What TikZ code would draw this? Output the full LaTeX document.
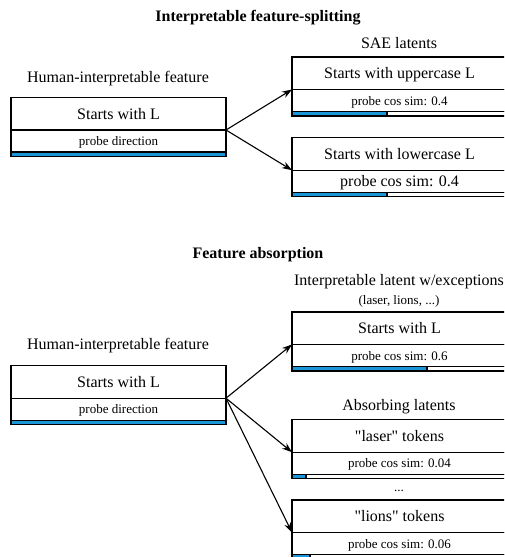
\documentclass[tikz,border=0pt]{standalone}
\usepackage{fontspec}
\setmainfont{Liberation Serif}
\usetikzlibrary{positioning,arrows.meta}

\definecolor{probeblue}{HTML}{1B95D8}
\newcommand{\bigtxt}{\fontsize{16}{18}\selectfont}
\newcommand{\smalltxt}{\fontsize{13}{15}\selectfont}

\begin{document}
\begin{tikzpicture}[x=1pt,y=-1pt,
	headbox/.style={rectangle, draw=black, line width=1.2pt, inner sep=0mm, outer sep=0pt, minimum width=215pt, minimum height=32.5pt, font=\bigtxt, text height=11pt, text depth=0pt},
	probebox/.style={headbox, minimum height=22pt},
	smallprobe/.style={probebox, font=\smalltxt, text height=9pt},
	barbox/.style={rectangle, draw=black, line width=1.2pt, inner sep=0mm, outer sep=0pt, minimum width=215pt, minimum height=4.5pt},
	bluebar/.style={barbox, fill=probeblue, anchor=north west},
	captxt/.style={font=\bigtxt, anchor=base, inner sep=0pt},
	smallcap/.style={captxt, font=\smalltxt},
	headtxt/.style={captxt, font=\bigtxt\bfseries},
	arr/.style={-{Stealth[length=10pt,width=7pt]}, line width=1.1pt}]

	\useasboundingbox (0,0) rectangle (504,557);
	\clip (0,0) rectangle (504,557);

	% feature splitting
	\node[headtxt] (splittitle) at (258,21.7) {Interpretable feature-splitting};
	\node[captxt] (saecap) at (399,48.3) {SAE latents};
	\node[captxt] (humcapa) at (118,82.3) {Human-interpretable feature};

	\node[headbox, anchor=north west] (huma) at (11,97.5) {Starts with L};
	\node[smallprobe, below=0pt of huma] (humap) {probe direction};
	\node[barbox, below=0pt of humap] (humab) {};
	\node[bluebar] (humafill) at (humab.north west) {};

	\node[headbox, anchor=north west] (upper) at (292,57) {Starts with uppercase L};
	\node[smallprobe, below=0pt of upper] (upperp) {probe cos sim: 0.4};
	\node[barbox, below=0pt of upperp] (upperb) {};
	\node[bluebar, minimum width=95pt] (upperfill) at (upperb.north west) {};

	\node[headbox, anchor=north west] (lower) at (292,137.7) {Starts with lowercase L};
	\node[probebox, below=0pt of lower] (lowerp) {probe cos sim: 0.4};
	\node[barbox, below=0pt of lowerp] (lowerb) {};
	\node[bluebar, minimum width=95pt] (lowerfill) at (lowerb.north west) {};

	\draw[arr] (huma.south east) -- (upper.south west);
	\draw[arr] (huma.south east) -- (lower.south west);

	% feature absorption
	\node[headtxt] (abstitle) at (258,258.3) {Feature absorption};
	\node[captxt] (exccap) at (399,285.7) {Interpretable latent w/exceptions};
	\node[smallcap] (excsub) at (399,304.3) {(laser, lions, ...)};
	\node[captxt] (humcapb) at (118,349.3) {Human-interpretable feature};

	\node[headbox, anchor=north west] (humb) at (11,365.7) {Starts with L};
	\node[smallprobe, below=0pt of humb] (humbp) {probe direction};
	\node[barbox, below=0pt of humbp] (humbb) {};
	\node[bluebar] (humbfill) at (humbb.north west) {};

	\node[headbox, anchor=north west] (exc) at (292,312) {Starts with L};
	\node[smallprobe, below=0pt of exc] (excp) {probe cos sim: 0.6};
	\node[barbox, below=0pt of excp] (excb) {};
	\node[bluebar, minimum width=135pt] (excfill) at (excb.north west) {};

	\node[captxt] (abscap) at (399,410.7) {Absorbing latents};

	\node[headbox, anchor=north west] (laser) at (292,419.7) {\textquotedbl laser\textquotedbl{} tokens};
	\node[smallprobe, below=0pt of laser] (laserp) {probe cos sim: 0.04};
	\node[barbox, below=0pt of laserp] (laserb) {};
	\node[bluebar, minimum width=14pt] (laserfill) at (laserb.north west) {};

	\node[smallcap] (dots) at (399,491.7) {...};

	\node[headbox, anchor=north west] (lions) at (292,500) {\textquotedbl lions\textquotedbl{} tokens};
	\node[smallprobe, below=0pt of lions] (lionsp) {probe cos sim: 0.06};
	\node[barbox, below=0pt of lionsp] (lionsb) {};
	\node[bluebar, minimum width=18pt] (lionsfill) at (lionsb.north west) {};

	\draw[arr] (humb.south east) -- (exc.south west);
	\draw[arr] (humb.south east) -- (laser.south west);
	\draw[arr] (humb.south east) -- (lions.south west);

\end{tikzpicture}
\end{document}
